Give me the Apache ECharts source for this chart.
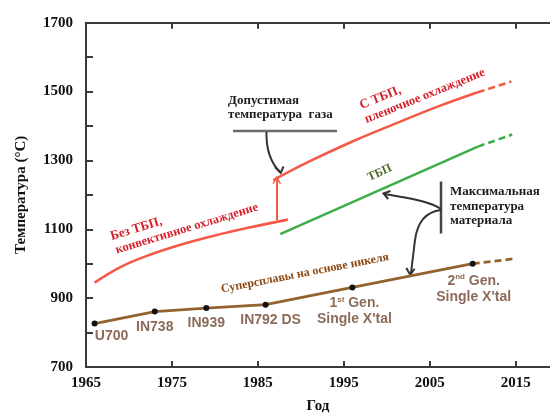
<!DOCTYPE html>
<html>
<head>
<meta charset="utf-8">
<script src="https://cdn.jsdelivr.net/npm/echarts@6/dist/echarts.min.js"></script>
<style>
  html, body { margin: 0; padding: 0; background: #fff; }
  #chart { width: 550px; height: 419px; }
</style>
</head>
<body>
<div id="chart"></div>
<script>
// Axis ticks
const yearTicks = [1965, 1975, 1985, 1995, 2005, 2015];
const tempTicks = [700, 900, 1100, 1300, 1500, 1700];

// Gas temperature without TBC, convective cooling
const noTbcYears = [1966, 1969, 1972, 1976, 1980, 1984, 1988.5];
const noTbcTemps = [945, 990, 1022, 1055, 1082, 1105, 1128];

// Gas temperature with TBC, film cooling (solid part + projection)
const filmYears = [1986.8, 1991, 1996, 2001.5, 2006, 2010.6];
const filmTemps = [1243, 1297, 1355, 1412, 1457, 1498];
const filmFutureYears = [2010.6, 2014.5];
const filmFutureTemps = [1498, 1529];

// Material temperature with TBC (solid part + projection)
const tbcYears = [1987.6, 2010.6];
const tbcTemps = [1086, 1340];
const tbcFutureYears = [2010.6, 2014.6];
const tbcFutureTemps = [1340, 1375];

// Nickel superalloys
const alloyNames = ['U700', 'IN738', 'IN939', 'IN792 DS', '1st Gen. Single X\'tal', '2nd Gen. Single X\'tal'];
const alloyYears = [1966, 1973, 1979, 1985.9, 1996, 2010];
const alloyTemps = [826, 861, 871, 881, 931, 1000];
const alloyFutureYears = [2010, 2014.7];
const alloyFutureTemps = [1000, 1014];

// Jump from convective to film cooling
const stepYear = 1987.2;
const stepFrom = 1126;
const stepTo = 1244;

const pairs = (xs, ys) => xs.map((x, i) => [x, ys[i]]);

const SERIF = '"Liberation Serif", "Times New Roman", serif';
const SANS = '"Liberation Sans", Arial, sans-serif';
const RED_LINE = '#f25a46';
const RED_TEXT = '#d61f29';
const GREEN_LINE = '#3eae4b';
const BROWN_LINE = '#93622f';
const ALLOY_TEXT = '#8c6c58';
const AXIS = '#3a3a3a';

// Per-label placement tweaks for the alloy names
const alloyLabelStyle = [
  { offset: [17, 0], distance: 2 },
  { offset: [0, 0], distance: 5 },
  { offset: [0, 0], distance: 4 },
  { offset: [5, 0], distance: 4 },
  { offset: [2, 0], distance: 5 },
  { offset: [1, 0], distance: 6 }
];

function alloyLabelText(name) {
  if (name.startsWith('1st')) return '1{s|st} Gen.\nSingle X\'tal';
  if (name.startsWith('2nd')) return '2{s|nd} Gen.\nSingle X\'tal';
  return name;
}

const alloyData = alloyYears.map((y, i) => ({
  value: [y, alloyTemps[i]],
  name: alloyNames[i],
  label: alloyLabelStyle[i]
}));

const arrowHead = 'path://M5,0 L10,9 L8.2,9 L5,3.4 L1.8,9 L0,9 Z';

// Annotation text lines: baseline point, angle (deg), size, colour
function textLine(bx, by, text, deg, size, color) {
  const r = deg * Math.PI / 180;
  const off = size * 0.34;
  return {
    type: 'text',
    x: bx - off * Math.sin(r),
    y: by - off * Math.cos(r),
    rotation: r,
    silent: true,
    style: {
      text: text,
      fill: color,
      font: 'bold ' + size + 'px ' + SERIF,
      textAlign: 'left', align: 'left',
      textVerticalAlign: 'middle', verticalAlign: 'middle'
    }
  };
}

function chevron(points, color) {
  return {
    type: 'polyline', silent: true,
    shape: { points: points },
    style: { stroke: color, lineWidth: 2, fill: null, lineJoin: 'miter' }
  };
}

function bezier(x1, y1, cpx1, cpy1, cpx2, cpy2, x2, y2, color) {
  return {
    type: 'bezierCurve', silent: true,
    shape: { x1: x1, y1: y1, cpx1: cpx1, cpy1: cpy1, cpx2: cpx2, cpy2: cpy2, x2: x2, y2: y2 },
    style: { stroke: color, lineWidth: 2, fill: null }
  };
}

function segment(x1, y1, x2, y2, color, width) {
  return {
    type: 'line', silent: true,
    shape: { x1: x1, y1: y1, x2: x2, y2: y2 },
    style: { stroke: color, lineWidth: width }
  };
}

const graphics = [
  textLine(112, 241, 'Без ТБП,', 17, 13, RED_TEXT),
  textLine(117, 254.5, 'конвективное охлаждение', 17, 12.5, RED_TEXT),
  textLine(228, 105, 'Допустимая', 0, 13, '#1c1c1c'),
  textLine(228, 119.5, 'температура  газа', 0, 13, '#1c1c1c'),
  textLine(362, 110, 'С ТБП,', 22, 13, RED_TEXT),
  textLine(367, 124, 'пленочное охлаждение', 22, 12.5, RED_TEXT),
  textLine(370, 182, 'ТБП', 25, 12, '#4b6a28'),
  textLine(450, 196.5, 'Максимальная', 0, 13, '#1c1c1c'),
  textLine(450, 211, 'температура', 0, 13, '#1c1c1c'),
  textLine(450, 225.5, 'материала', 0, 13, '#1c1c1c'),
  textLine(222, 293.5, 'Суперсплавы на основе никеля', 11, 12, '#8b4a14'),
  // bar under "Допустимая температура газа" and its arrow
  segment(233, 131, 337, 131, '#6b6b6b', 2.5),
  bezier(266.5, 132, 266, 150, 270, 162, 280, 172, '#333'),
  chevron([[275, 167], [280.7, 173], [283.5, 166.5]], '#333'),
  // bar next to "Максимальная температура материала" and its arrows
  segment(441, 181.5, 441, 233.5, '#444', 2.5),
  bezier(441, 209, 428, 200, 405, 198, 385, 194, '#333'),
  chevron([[390.5, 191], [383.5, 193.4], [388.2, 199]], '#333'),
  bezier(441, 210, 424, 212, 417, 225, 415, 240, '#333'),
  segment(415, 240, 411, 273, '#333', 2),
  chevron([[406.3, 268], [410.3, 275], [414.6, 268.8]], '#333')
];

const chart = echarts.init(document.getElementById('chart'), null, { renderer: 'canvas' });

chart.setOption({
  animation: false,
  backgroundColor: '#ffffff',
  grid: { left: 86, right: 0, top: 22.7, bottom: 48.3, containLabel: false },
  xAxis: [
    {
      type: 'value', min: 1965, max: 2019, position: 'bottom',
      axisLine: { show: true, lineStyle: { color: AXIS, width: 2 } },
      axisTick: { show: true, inside: true, length: 6, customValues: yearTicks,
                  lineStyle: { color: AXIS, width: 2 } },
      axisLabel: { show: true, customValues: yearTicks, margin: 9, color: '#111',
                   fontFamily: SERIF, fontWeight: 'bold', fontSize: 15,
                   formatter: v => String(v) },
      splitLine: { show: false },
      name: 'Год', nameLocation: 'middle', nameGap: 32,
      nameTextStyle: { color: '#111', fontFamily: SERIF, fontWeight: 'bold', fontSize: 15 }
    },
    {
      type: 'value', min: 1965, max: 2019, position: 'top',
      axisLine: { show: true, lineStyle: { color: AXIS, width: 2 } },
      axisTick: { show: true, inside: true, length: 6, customValues: yearTicks,
                  lineStyle: { color: AXIS, width: 2 } },
      axisLabel: { show: false },
      splitLine: { show: false }
    }
  ],
  yAxis: {
    type: 'value', min: 700, max: 1700, interval: 100,
    axisLine: { show: true, lineStyle: { color: AXIS, width: 2 } },
    axisTick: { show: true, inside: true, length: 7, lineStyle: { color: AXIS, width: 2 } },
    axisLabel: {
      margin: 13, color: '#111', fontFamily: SERIF, fontWeight: 'bold', fontSize: 15,
      formatter: v => (tempTicks.includes(v) ? String(v) : '')
    },
    splitLine: { show: false },
    name: 'Температура (°C)', nameLocation: 'middle', nameGap: 57, nameRotate: 90,
    nameTextStyle: { color: '#111', fontFamily: SERIF, fontWeight: 'bold', fontSize: 15 }
  },
  series: [
    {
      name: 'Без ТБП', type: 'line', smooth: 0.4, symbol: 'none',
      data: pairs(noTbcYears, noTbcTemps),
      lineStyle: { color: RED_LINE, width: 2.6 },
      markLine: {
        silent: true, symbol: ['none', arrowHead], symbolSize: [9, 8],
        label: { show: false },
        lineStyle: { color: RED_LINE, width: 2, type: 'solid' },
        data: [[{ coord: [stepYear, stepFrom] }, { coord: [stepYear, stepTo] }]]
      }
    },
    {
      name: 'С ТБП', type: 'line', smooth: 0.4, symbol: 'none',
      data: pairs(filmYears, filmTemps),
      lineStyle: { color: RED_LINE, width: 2.6 }
    },
    {
      name: 'С ТБП (прогноз)', type: 'line', symbol: 'none',
      data: pairs(filmFutureYears, filmFutureTemps),
      lineStyle: { color: RED_LINE, width: 2.6, type: [7, 4] }
    },
    {
      name: 'ТБП', type: 'line', symbol: 'none',
      data: pairs(tbcYears, tbcTemps),
      lineStyle: { color: GREEN_LINE, width: 2.6 }
    },
    {
      name: 'ТБП (прогноз)', type: 'line', symbol: 'none',
      data: pairs(tbcFutureYears, tbcFutureTemps),
      lineStyle: { color: GREEN_LINE, width: 2.6, type: [7, 4] }
    },
    {
      name: 'Суперсплавы (прогноз)', type: 'line', symbol: 'none',
      data: pairs(alloyFutureYears, alloyFutureTemps),
      lineStyle: { color: BROWN_LINE, width: 2.8, type: [7, 4] }
    },
    {
      name: 'Суперсплавы', type: 'line', symbol: 'circle', symbolSize: 6,
      showAllSymbol: true,
      itemStyle: { color: '#111', borderWidth: 0 },
      lineStyle: { color: BROWN_LINE, width: 2.8 },
      data: alloyData,
      label: {
        show: true, position: 'bottom', distance: 4,
        color: ALLOY_TEXT, fontFamily: SANS, fontWeight: 'bold', fontSize: 14,
        lineHeight: 16, align: 'center',
        formatter: p => alloyLabelText(p.name),
        rich: {
          s: { fontSize: 8, fontWeight: 'bold', fontFamily: SANS, color: ALLOY_TEXT,
               lineHeight: 16, verticalAlign: 'top', padding: [0, 0, 4, 0] }
        }
      }
    }
  ],
  graphic: graphics
});
</script>
</body>
</html>
